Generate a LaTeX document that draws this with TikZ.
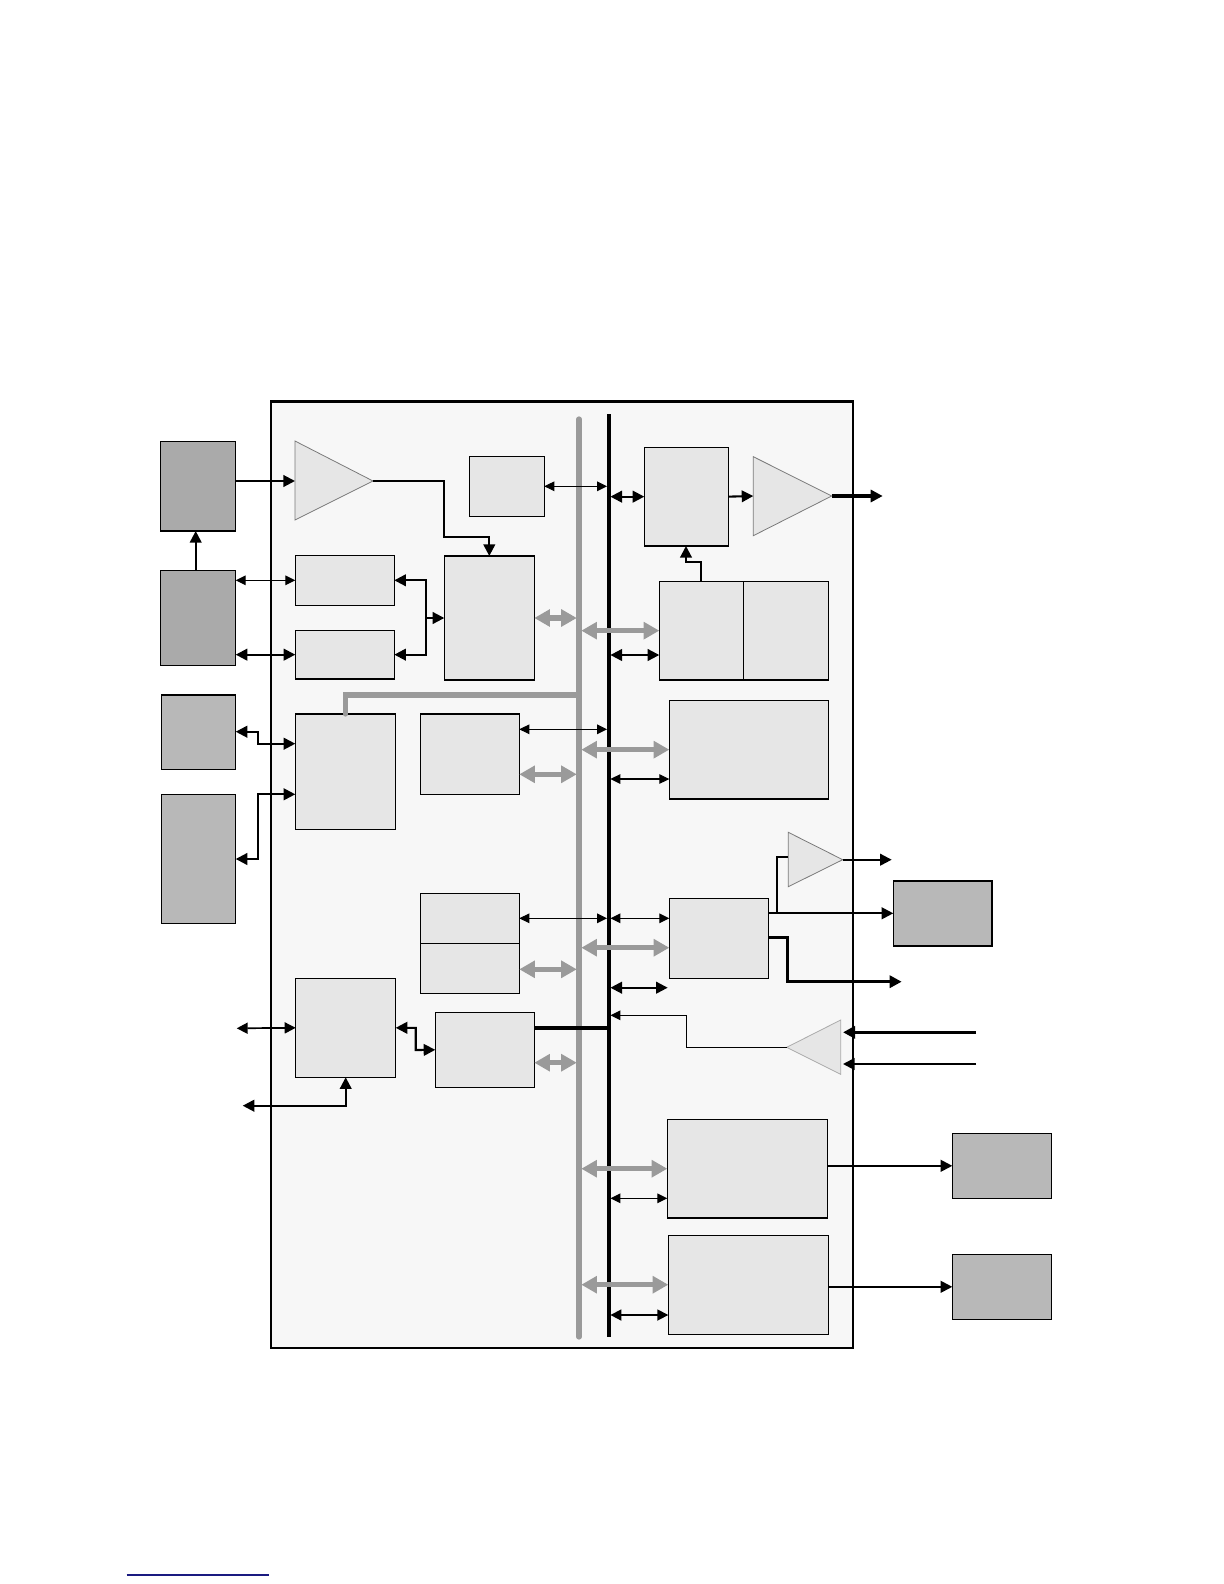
\documentclass[tikz,border=0pt]{standalone}
\usetikzlibrary{arrows.meta}
\definecolor{outerfill}{HTML}{F7F7F7}
\definecolor{lightfill}{HTML}{E6E6E6}
\definecolor{darka}{HTML}{AAAAAA}
\definecolor{darkb}{HTML}{B8B8B8}
\definecolor{busgray}{HTML}{9A9A9A}
\definecolor{triborder}{HTML}{7A7A7A}
\definecolor{triborderb}{HTML}{AAAAAA}
\definecolor{linknavy}{HTML}{1A1A80}
\newcommand\bx[6]{\node[#2, anchor=north west, minimum width={(#5-#3)*0.5pt}, minimum height={(#6-#4)*0.5pt}] (#1) at (#3,#4) {};}
\tikzset{
  lbox/.style={draw, line width=0.55pt, fill=lightfill, inner sep=0pt, outer sep=0pt},
  dboxa/.style={lbox, fill=darka},
  dboxb/.style={lbox, fill=darkb},
  outerbox/.style={draw, line width=1.1pt, fill=outerfill, inner sep=0pt, outer sep=0pt},
  tristyle/.style={draw=triborder, line width=0.4pt, fill=lightfill},
  thinar/.style={line width=0.55pt, {Triangle[length=5pt,width=4.8pt]}-{Triangle[length=5pt,width=4.8pt]}},
  thinto/.style={line width=0.55pt, -{Triangle[length=5pt,width=4.8pt]}},
  medar/.style={line width=1.05pt, {Triangle[length=5.8pt,width=5.8pt]}-{Triangle[length=5.8pt,width=5.8pt]}},
  midar/.style={line width=0.85pt, {Triangle[length=5.5pt,width=5.5pt]}-{Triangle[length=5.5pt,width=5.5pt]}},
  medto/.style={line width=1.05pt, -{Triangle[length=5.8pt,width=5.8pt]}},
  thickto/.style={line width=1.55pt, -{Triangle[length=6pt,width=6pt]}},
  grayar/.style={draw=busgray, line width=2.6pt, {Triangle[length=7.8pt,width=8.3pt]}-{Triangle[length=7.8pt,width=8.3pt]}},
}
\begin{document}
\begin{tikzpicture}[x=0.5pt,y=-0.5pt]
\useasboundingbox (0,0) rectangle (1224,1584);
% outer frame
\bx{outer}{outerbox}{270.7}{401.5}{853}{1347.7}
% bus coordinates
\coordinate (gb) at (579,0);
\coordinate (bb) at (608.7,0);
\coordinate (gL) at (576.8,0);
\coordinate (gR) at (581.3,0);
\coordinate (bL) at (607,0);
\coordinate (bR) at (610.4,0);
% external dark boxes
\bx{D1}{dboxa}{160.7}{441.3}{235.7}{531}
\bx{D2}{dboxa}{160.7}{570.3}{235.7}{665.3}
\bx{D3}{dboxb}{161.3}{695}{235.7}{769.3}
\bx{D4}{dboxb}{161.3}{794.3}{235.7}{923.3}
\bx{DK}{dboxb}{893.3}{881}{992}{946}
\bx{DP}{dboxb}{952.3}{1133.3}{1051.3}{1198.3}
\bx{DQ}{dboxb}{952.3}{1254.3}{1051.3}{1319.3}
% internal boxes
\bx{T}{lbox}{469.3}{456.3}{544.3}{516.3}
\bx{A}{lbox}{295.3}{555.3}{394.3}{605.3}
\bx{B}{lbox}{295.3}{630.3}{394.3}{679}
\bx{C}{lbox}{444.3}{556}{534.3}{680}
\bx{D}{lbox}{644.3}{447.3}{728.3}{546}
\bx{E}{lbox}{659.3}{581.3}{828.3}{680}
\draw[line width=0.55pt] (743.3,0 |- E.north) -- (743.3,0 |- E.south);
\bx{F}{lbox}{295.3}{714}{395.7}{829.3}
\bx{G}{lbox}{420.3}{714}{519.3}{794.3}
\bx{H}{lbox}{669.3}{700.3}{828.7}{799}
\bx{I}{lbox}{420.3}{893.3}{519.3}{993.3}
\draw[line width=0.55pt] (I.west |- 0,943.3) -- (I.east |- 0,943.3);
\bx{J}{lbox}{669.3}{898.3}{768.3}{978.3}
\bx{M}{lbox}{295.7}{978.3}{395.7}{1077.3}
\bx{L}{lbox}{435.3}{1012.3}{534.3}{1087.3}
\bx{N}{lbox}{667.3}{1119.3}{827.3}{1218}
\bx{O}{lbox}{668.3}{1235.3}{828.3}{1334.3}
% triangles
\coordinate (t1in) at (295,481); \coordinate (t1tip) at (373,481);
\draw[tristyle] (295,441) -- (t1tip) -- (295,520) -- cycle;
\coordinate (t2in) at (753.3,496); \coordinate (t2tip) at (831.7,496);
\draw[tristyle] (753.3,456.7) -- (t2tip) -- (753.3,535.7) -- cycle;
\coordinate (t3in) at (788.3,857.3); \coordinate (t3tip) at (842.7,859.7);
\draw[tristyle] (788.3,832.3) -- (t3tip) -- (788.3,886.7) -- cycle;
\coordinate (t4tip) at (786.7,1047.3);
\draw[tristyle, draw=triborderb] (840.7,1020) -- (t4tip) -- (840.7,1074.3) -- cycle;
% buses
\draw[busgray, line width=2.6pt, line cap=round] (gb |- 0,419) -- (gb |- 0,1337);
\draw[line width=1.9pt] (bb |- 0,414) -- (bb |- 0,1337);
\draw[busgray, line width=2.6pt, line cap=round] (gb |- 0,695) -- (F.north |- 0,695) -- (F.north);
% free ends
\coordinate (o1) at (882.7,496);
\coordinate (o3) at (891.7,859.7);
\coordinate (o4) at (901.7,981.7);
\coordinate (j2) at (667.7,987.7);
\coordinate (in1) at (976,1032.3);
\coordinate (in1e) at (843,1032.3);
\coordinate (in2) at (976,1064);
\coordinate (in2e) at (843,1064);
\coordinate (m1) at (236.7,1028.3);
\coordinate (m2) at (242.7,1105.7);
% connectors, top-left
\draw[medto] (D1.east |- t1in) -- (t1in);
\draw[medto] (t1tip) -| (444,536.7) -| (C.north);
\draw[medto] (195.7,0 |- D2.north) -- (195.7,0 |- D1.south);
\draw[thinar] (D2.east |- A.west) -- (A.west);
\draw[medar] (D2.east |- B.west) -- (B.west);
\draw[medar] (A.east) -| (426,617.7) |- (B.east);
\draw[medto] (426,0 |- C.west) -- (C.west);
\draw[grayar] (C.east) -- (gL |- C.east);
\draw[thinar] (T.east) -- (bL |- T.east);
% top-right
\draw[medar] (bR |- D.west) -- (D.west);
\draw[medto] (D.east) -- (t2in);
\draw[thickto] (t2tip) -- (o1);
\draw[medto] (E.north -| 701,0) |- (686,561.7) -- (D.south -| 686,0);
\draw[grayar] (gR |- E.west) -- (E.west);
\draw[medar] (bR |- 0,655) -- (E.west |- 0,655);
% middle-left
\draw[medar] (D3.east |- 0,731.7) -| (257.7,743.7) -- (F.west |- 0,743.7);
\draw[medar] (D4.east |- 0,859) -| (257.7,794.3) -- (F.west |- 0,794.3);
\draw[thinar] (G.east |- 0,729.3) -- (bL |- 0,729.3);
\draw[grayar] (G.east |- 0,774.3) -- (gL |- 0,774.3);
\draw[grayar] (gR |- H.west) -- (H.west);
\draw[thinar] (bR |- 0,779) -- (H.west |- 0,779);
% middle
\draw[thinar] (I.east |- 0,918.3) -- (bL |- 0,918.3);
\draw[thinar] (bR |- 0,918.3) -- (J.west |- 0,918.3);
\draw[grayar] (gR |- 0,947.7) -- (J.west |- 0,947.7);
\draw[grayar] (I.east |- 0,969.3) -- (gL |- 0,969.3);
\draw[medar] (bR |- j2) -- (j2);
\draw[medto] (J.east |- 0,913.3) -- (DK.west |- 0,913.3);
\draw[line width=1.05pt] (776.7,913.3) |- (t3in);
\draw[medto] (t3tip) -- (o3);
\draw[thickto] (J.east |- 0,937.7) -| (787.3,981.7) -- (o4);
\draw[thinto] (t4tip) -| (686.7,1015.3) -- (bR |- 0,1015.3);
\draw[thickto] (in1) -- (in1e);
\draw[medto] (in2) -- (in2e);
% lower left
\draw[line width=1.6pt] (L.east |- 0,1028) -- (bb |- 0,1028);
\draw[grayar] (L.east |- 0,1062.7) -- (gL |- 0,1062.7);
\draw[midar] (m1) -- (M.west);
\draw[medar] (M.east) -| (415.7,1050) -- (L.west);
\draw[medar] (m2) -| (M.south);
% bottom right
\draw[grayar] (gR |- 0,1168.7) -- (N.west |- 0,1168.7);
\draw[thinar] (bR |- 0,1198.3) -- (N.west |- 0,1198.3);
\draw[medto] (N.east |- DP.west) -- (DP.west);
\draw[grayar] (gR |- 0,1284.7) -- (O.west |- 0,1284.7);
\draw[midar] (bR |- 0,1315) -- (O.west |- 0,1315);
\draw[medto] (O.east |- DQ.west) -- (DQ.west);
% link underline
\coordinate (u1) at (126.7,1575);
\coordinate (u2) at (269,1575);
\draw[linknavy, line width=0.8pt] (u1) -- (u2);
\end{tikzpicture}
\end{document}
